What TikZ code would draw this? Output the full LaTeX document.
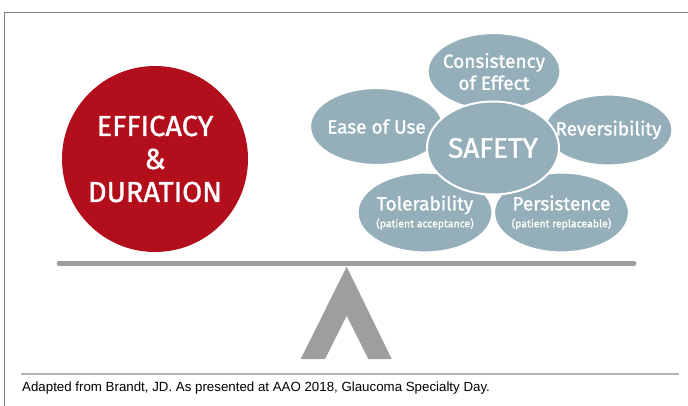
\documentclass[tikz,border=0pt]{standalone}
\usepackage{fontspec}
\setmainfont{Fira Sans}[FakeBold=1.2]
\newfontfamily\notefont{Liberation Sans}
\usetikzlibrary{shapes.geometric}

\definecolor{scalered}{HTML}{B30E1C}
\definecolor{aspectblue}{HTML}{94AEBA}
\definecolor{beamgray}{HTML}{9E9E9E}
\definecolor{framegray}{HTML}{7C7C7C}
\definecolor{rulegray}{HTML}{B4B4B4}

\newcommand{\remarkfont}{\fontsize{10.5}{12}\selectfont}

\begin{document}
\begin{tikzpicture}[
    x=1pt, y=-1pt,
    every node/.style={text=white, inner sep=0pt, align=center},
    weight/.style={circle, fill=scalered, minimum size=186pt,
        font=\fontsize{29}{33}\selectfont},
    aspect/.style={ellipse, fill=aspectblue, draw=white, line width=1.2pt,
        inner xsep=-20pt, inner ysep=-6pt,
        minimum width=132pt, minimum height=76pt,
        font=\fontsize{19}{22}\selectfont},
    core/.style={aspect, minimum height=93pt, line width=2pt,
        font=\fontsize{28}{30}\selectfont},
    beam/.style={draw=beamgray, line width=5pt, line cap=round}
]
    \useasboundingbox (0,0) rectangle (688,405);

    % frame and footer rule
    \draw[framegray, line width=1pt] (690,12) -- (4.5,12) -- (4.5,406);
    \draw[rulegray, line width=1.5pt] (21,374) -- (679,374);

    % left pan
    \node[weight] (weight) at (155,159) {EFFICACY\\\&\\DURATION};

    % right pan
    \node[aspect] (consistency) at (494,71.5) {Consistency\\of Effect};
    \node[aspect] (ease) at (376.5,126.5) {Ease of Use};
    \node[aspect, minimum width=127pt, minimum height=70pt] (reversibility) at (608.5,130) {Reversibility};
    \node[aspect, minimum width=134pt, minimum height=79pt] (tolerability) at (425,212.5)
        {Tolerability\\[-5pt]{\remarkfont (patient acceptance)}};
    \node[aspect, minimum width=134pt, minimum height=79pt] (persistence) at (561.5,212.5)
        {Persistence\\[-5pt]{\remarkfont (patient replaceable)}};
    \node[core] (safety) at (493,148) {SAFETY};

    % beam and pivot
    \coordinate (beamL) at (59,263.5);
    \coordinate (beamR) at (634,263.5);
    \draw[beam] (beamL) -- (beamR);
    \coordinate (pivot) at (346.7,266.7);
    \fill[beamgray] (pivot) -- (391.7,359) -- (368.3,359) -- (346.7,315.7)
        -- (325,359) -- (300.7,359) -- cycle;

    \node[text=black, anchor=base west, font=\notefont\fontsize{13.3}{15}\selectfont] (source) at (22,391)
        {Adapted from Brandt, JD. As presented at AAO 2018, Glaucoma Specialty Day.};
\end{tikzpicture}
\end{document}
